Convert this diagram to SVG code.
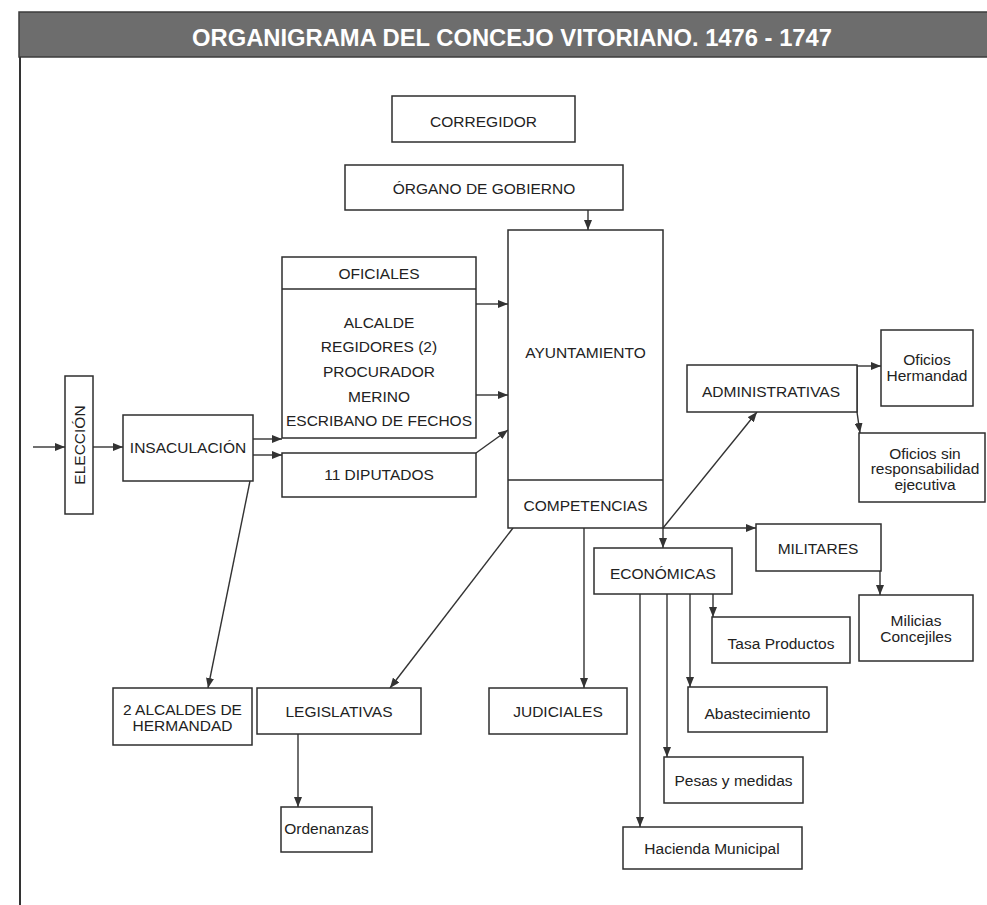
<svg xmlns="http://www.w3.org/2000/svg" width="987" height="905" viewBox="0 0 987 905">
<style>
.box{fill:#fff;stroke:#2e2e2e;stroke-width:1.5}
.t{font-family:"Liberation Sans",Arial,sans-serif;font-size:15.5px;fill:#222;text-anchor:middle}
.c{fill:none;stroke:#333;stroke-width:1.4}
.a{marker-end:url(#ah)}
</style>
<defs>
<marker id="ah" markerUnits="userSpaceOnUse" markerWidth="11" markerHeight="8" refX="10" refY="4" orient="auto">
<path d="M0,0 L10,4 L0,8 z" fill="#333"/>
</marker>
</defs>
<rect x="0" y="0" width="987" height="905" fill="#fff"/>
<g id="title">
<rect x="19" y="12" width="970" height="45" fill="#6d6d6d" stroke="#3c3c3c" stroke-width="1.5"/>
<text x="512" y="45.5" font-family="'Liberation Sans',Arial,sans-serif" font-size="24" font-weight="bold" fill="#fff" text-anchor="middle" textLength="640" lengthAdjust="spacingAndGlyphs">ORGANIGRAMA DEL CONCEJO VITORIANO. 1476 - 1747</text>
</g>
<line x1="20" y1="57" x2="20" y2="905" stroke="#333" stroke-width="2"/>

<g id="connectors">
<path class="c a" d="M33,447 H65"/>
<path class="c a" d="M93,447 H123"/>
<path class="c a" d="M253,439 H282"/>
<path class="c a" d="M253,455 H282"/>
<path class="c a" d="M476,304 H508"/>
<path class="c a" d="M476,395 H508"/>
<path class="c a" d="M476,453 L508,430"/>
<path class="c a" d="M250,481 L208,688"/>
<path class="c a" d="M588,210 V230"/>
<path class="c a" d="M513,528 L390,688"/>
<path class="c a" d="M584,528 V688"/>
<path class="c a" d="M663,528 V548"/>
<path class="c a" d="M663,528 H756"/>
<path class="c a" d="M663,528 L757,412"/>
<path class="c a" d="M880,571 V595"/>
<path class="c a" d="M857,366 H881"/>
<path class="c a" d="M857,366 V412 L860,433"/>
<path class="c a" d="M298,734 V807"/>
<path class="c a" d="M713,594 V617"/>
<path class="c a" d="M690,594 V687"/>
<path class="c a" d="M667,594 V757"/>
<path class="c a" d="M640,594 V827"/>
</g>

<g id="corregidor"><rect class="box" x="392" y="96" width="183" height="46"/><text class="t" x="483.5" y="127" font-size="15">CORREGIDOR</text></g>
<g id="organo"><rect class="box" x="345" y="165" width="278" height="45"/><text class="t" x="484" y="194">ÓRGANO DE GOBIERNO</text></g>
<g id="ayuntamiento"><rect class="box" x="508" y="230" width="155" height="298"/><line x1="508" y1="480" x2="663" y2="480" stroke="#2e2e2e" stroke-width="1.5"/><text class="t" x="585.5" y="358">AYUNTAMIENTO</text><text class="t" x="585.5" y="511">COMPETENCIAS</text></g>
<g id="oficiales"><rect class="box" x="282" y="257" width="194" height="181"/><line x1="282" y1="289" x2="476" y2="289" stroke="#2e2e2e" stroke-width="1.5"/>
<text class="t" x="379" y="278.5">OFICIALES</text>
<text class="t" x="379" y="327.5">ALCALDE</text>
<text class="t" x="379" y="352">REGIDORES (2)</text>
<text class="t" x="379" y="376.5">PROCURADOR</text>
<text class="t" x="379" y="401.5">MERINO</text>
<text class="t" x="379" y="426">ESCRIBANO DE FECHOS</text></g>
<g id="diputados"><rect class="box" x="282" y="453" width="194" height="44"/><text class="t" x="379" y="479.5">11 DIPUTADOS</text></g>
<g id="insaculacion"><rect class="box" x="123" y="415" width="130" height="66"/><text class="t" x="188" y="452.5">INSACULACIÓN</text></g>
<g id="eleccion"><rect class="box" x="65" y="376" width="28" height="138"/><text class="t" transform="translate(84.5,445) rotate(-90)">ELECCIÓN</text></g>
<g id="alcaldes-hermandad"><rect class="box" x="113" y="688" width="139" height="57"/><text class="t" x="182.5" y="715">2 ALCALDES DE</text><text class="t" x="182.5" y="731">HERMANDAD</text></g>
<g id="legislativas"><rect class="box" x="257" y="688" width="164" height="46"/><text class="t" x="339" y="717">LEGISLATIVAS</text></g>
<g id="ordenanzas"><rect class="box" x="281" y="807" width="91" height="45"/><text class="t" x="326.5" y="834">Ordenanzas</text></g>
<g id="judiciales"><rect class="box" x="489" y="688" width="138" height="46"/><text class="t" x="558" y="717">JUDICIALES</text></g>
<g id="economicas"><rect class="box" x="594" y="548" width="138" height="46"/><text class="t" x="663" y="579">ECONÓMICAS</text></g>
<g id="militares"><rect class="box" x="756" y="524" width="125" height="47"/><text class="t" x="818" y="553.5">MILITARES</text></g>
<g id="milicias"><rect class="box" x="859" y="595" width="114" height="66"/><text class="t" x="916" y="626">Milicias</text><text class="t" x="916" y="642">Concejiles</text></g>
<g id="administrativas"><rect class="box" x="687" y="365" width="170" height="47"/><text class="t" x="771" y="397">ADMINISTRATIVAS</text></g>
<g id="oficios-hermandad"><rect class="box" x="881" y="330" width="92" height="76"/><text class="t" x="927" y="364.5">Oficios</text><text class="t" x="927" y="380.5">Hermandad</text></g>
<g id="oficios-sin"><rect class="box" x="859" y="433" width="126" height="69"/><text class="t" x="925" y="458.5">Oficios sin</text><text class="t" x="925" y="474">responsabilidad</text><text class="t" x="925" y="489.5">ejecutiva</text></g>
<g id="tasa"><rect class="box" x="712" y="617" width="138" height="46"/><text class="t" x="781" y="648.5">Tasa Productos</text></g>
<g id="abastecimiento"><rect class="box" x="688" y="687" width="139" height="45"/><text class="t" x="757.5" y="718.5">Abastecimiento</text></g>
<g id="pesas"><rect class="box" x="664" y="757" width="139" height="46"/><text class="t" x="733.5" y="786">Pesas y medidas</text></g>
<g id="hacienda"><rect class="box" x="623" y="827" width="179" height="42"/><text class="t" x="712" y="854">Hacienda Municipal</text></g>
</svg>
